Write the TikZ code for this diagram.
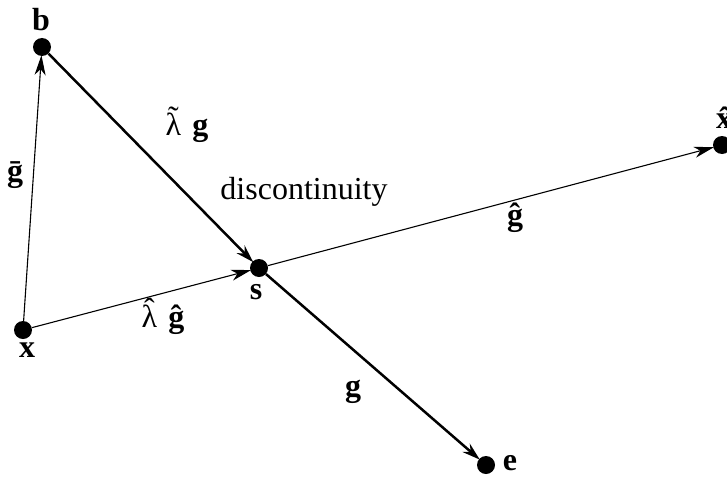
\documentclass[tikz,border=0pt]{standalone}
\usepackage{fontspec}
\setmainfont{Liberation Serif}
\usetikzlibrary{arrows.meta}
\newcommand{\lamtil}{{\mdseries\ooalign{λ\cr\hidewidth\raisebox{0.24em}{˜}\hidewidth\cr}}}
\newcommand{\lamhat}{{\mdseries\ooalign{λ\cr\hidewidth\raisebox{0.24em}{ˆ}\hidewidth\cr}}}
\begin{document}
\begin{tikzpicture}[x=1pt,y=-1pt,
  dot/.style={circle,fill=black,inner sep=0pt,minimum size=18pt},
  lbl/.style={font=\fontsize{32}{38}\selectfont\bfseries,inner sep=0pt},
  txt/.style={font=\fontsize{32}{38}\selectfont,inner sep=0pt},
  thinarr/.style={line width=1.1pt,-{Stealth[length=20pt,width=11pt,inset=6pt]},shorten >=-1pt},
  thickarr/.style={line width=2.5pt,-{Stealth[length=18pt,width=11pt,inset=6pt]},shorten >=-1pt}]
\clip (0,0) rectangle (727,503);
\useasboundingbox (0,0) rectangle (727,503);
\node[dot] (x) at (23,330) {};
\node[dot] (b) at (42,47) {};
\node[dot] (s) at (259,268) {};
\node[dot] (e) at (486,465) {};
\node[dot] (xh) at (722,145) {};
\draw[thinarr] (x) -- (b);
\draw[thinarr] (x) -- (s);
\draw[thinarr] (s) -- (xh);
\draw[thickarr] (b) -- (s);
\draw[thickarr] (s) -- (e);
\node[lbl] (lb) at (41,20) {b};
\node[lbl] (lx) at (27,350) {x};
\node[lbl] (ls) at (256,292) {s};
\node[lbl] (le) at (510,463) {e};
\node[lbl] (lxh) at (724,118) {\^{x}};
\node[lbl] (lgbar) at (15,175) {\={g}};
\node[lbl] (ltl) at (187,128) {\lamtil\hspace{0.35em}g};
\node[txt] (ldisc) at (304,192) {discontinuity};
\node[lbl] (lhl) at (163,320) {\lamhat\hspace{0.35em}\^{g}};
\node[lbl] (lgh) at (515,218) {\^{g}};
\node[lbl] (lg) at (353,392) {g};
\end{tikzpicture}
\end{document}
